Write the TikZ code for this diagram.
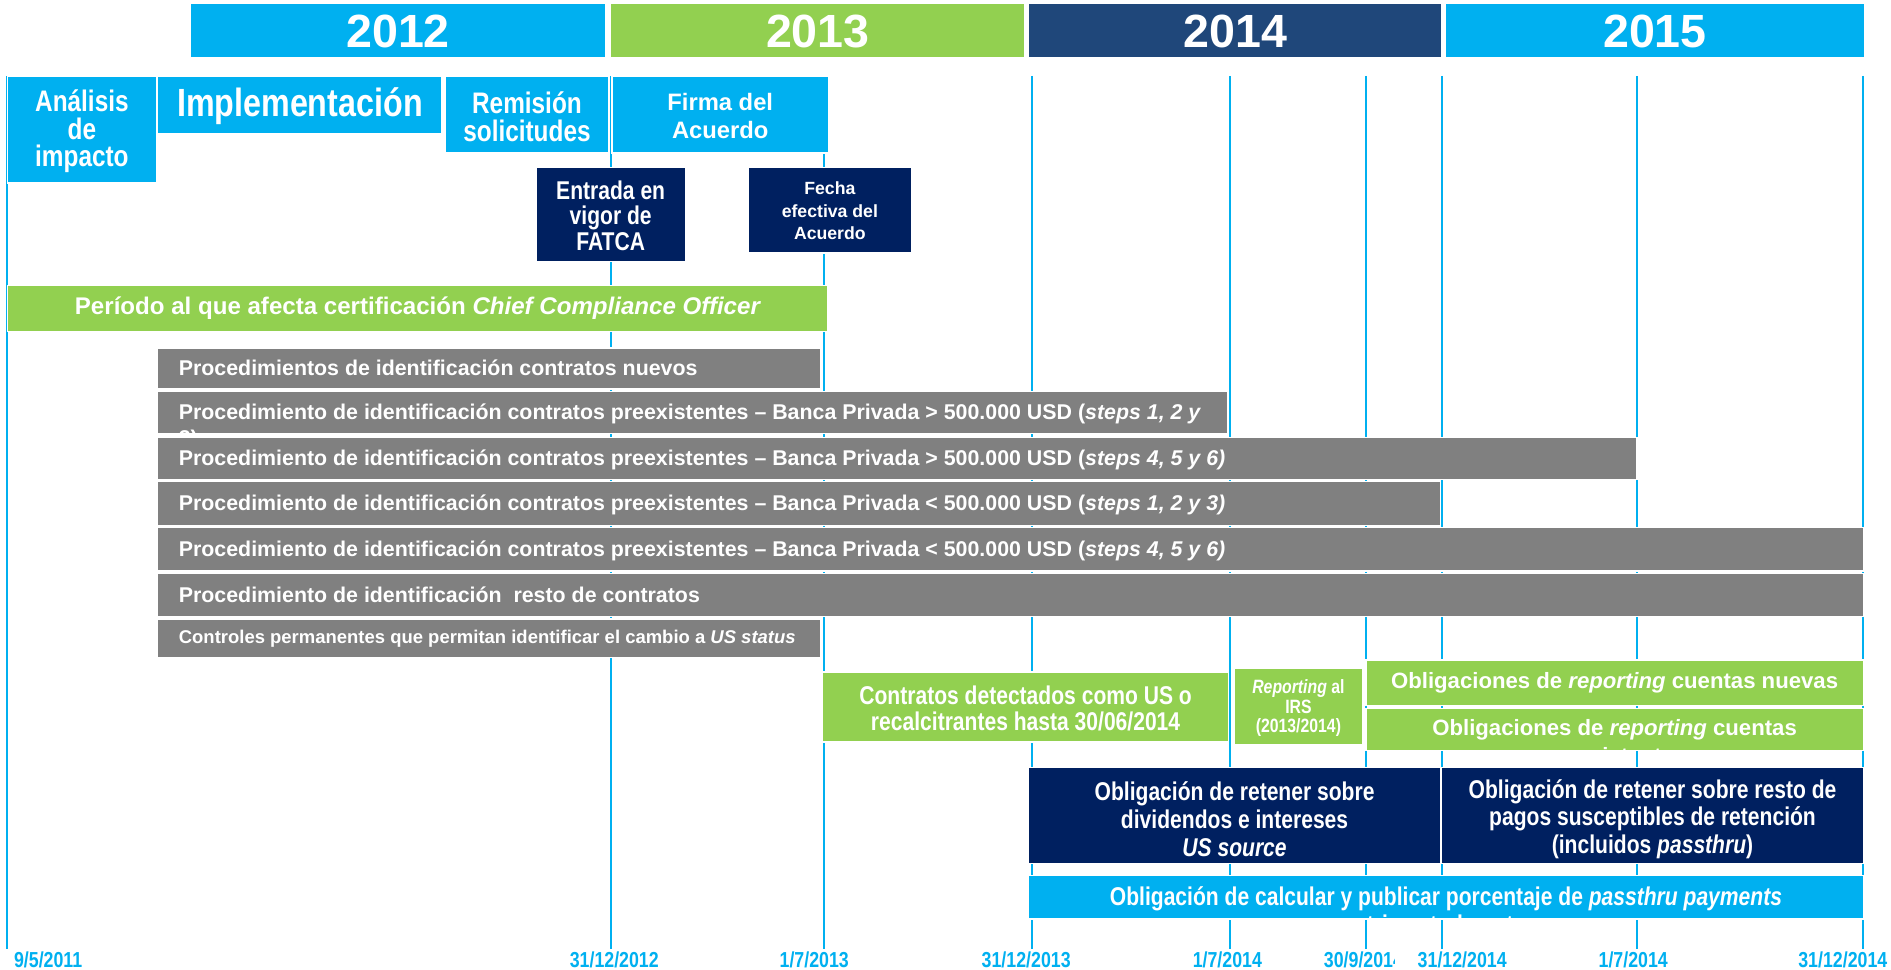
\documentclass[tikz,border=0pt]{standalone}
\usepackage{fontspec}
\setmainfont{Liberation Sans}
\newfontfamily\narrowfont[FakeStretch=0.82]{Liberation Sans}
\definecolor{fcyan}{RGB}{0,176,240}
\definecolor{fgreen}{RGB}{146,208,80}
\definecolor{fnavy}{RGB}{0,32,96}
\definecolor{fyear}{RGB}{31,71,122}
\definecolor{fgrey}{RGB}{128,128,128}
\tikzset{every picture/.style={line width=0.75pt},
  cyanbox/.style={fill=fcyan, draw=white, line width=0.8pt},
  greenbox/.style={fill=fgreen, draw=white, line width=0.8pt},
  navybox/.style={fill=fnavy, draw=white, line width=0.8pt},
  yearbox/.style={fill=fyear, draw=white, line width=0.8pt},
  greybar/.style={fill=fgrey, draw=white, line width=0.8pt},
  tline/.style={draw=fcyan, line width=1.1pt},
  boxtext/.style={text=white, align=center, inner sep=0pt},
  yeartext/.style={boxtext, font=\bfseries\fontsize{29}{30}\selectfont},
  bartext/.style={text=white, align=left, anchor=base west, inner sep=0pt, font=\bfseries\fontsize{13.3}{16}\selectfont},
  datetext/.style={text=fcyan, inner sep=1pt, font=\narrowfont\bfseries\fontsize{13.5}{16}\selectfont}
}

\begin{document}
\begin{tikzpicture}[x=0.75pt,y=0.75pt,yscale=-1,xscale=1]
\useasboundingbox (0,0) rectangle (1570,805);

%Straight Lines: timeline marks
\foreach \xm in {6,507,684,857,1021,1134,1197,1359,1547}
  \draw [tline] (\xm,63) -- (\xm,788);

%Shape: Rectangle: years
\draw [cyanbox] (158,3) rectangle (503,48);
\draw [greenbox] (507,3) rectangle (851,48);
\draw [yearbox] (854,3) rectangle (1197,48);
\draw [cyanbox] (1200,3) rectangle (1548,48);
% Text Node
\node [yeartext] (y2012) at (330.5,26) {2012};
\node [yeartext] (y2013) at (679,26) {2013};
\node [yeartext] (y2014) at (1025.5,26) {2014};
\node [yeartext] (y2015) at (1374,26) {2015};

%Shape: Rectangle: first phases
\draw [cyanbox] (6,63) rectangle (130,152);
\draw [cyanbox] (131,63) rectangle (367,111);
\draw [cyanbox] (370,63) rectangle (505,127);
\draw [cyanbox] (508,63) rectangle (688,127);
% Text Node
\node [boxtext, font=\narrowfont\bfseries\fontsize{18.5}{17.3}\selectfont] (analisis) at (68,109) {Análisis\\de\\impacto};
\node [boxtext, font=\narrowfont\bfseries\fontsize{24.5}{26}\selectfont] (implem) at (249,88) {Implementación};
\node [boxtext, font=\narrowfont\bfseries\fontsize{18.5}{17.3}\selectfont] (remision) at (437.5,97) {Remisión\\solicitudes};
\node [boxtext, font=\bfseries\fontsize{14.8}{17.3}\selectfont] (firma) at (598,96) {Firma del\\Acuerdo};

%Shape: Rectangle: milestones
\draw [navybox] (445,139) rectangle (569,217);
\draw [navybox] (621,139) rectangle (757,210);
% Text Node
\node [boxtext, font=\narrowfont\bfseries\fontsize{16}{16}\selectfont] (entrada) at (507,179) {Entrada en\\vigor de\\FATCA};
\node [boxtext, font=\bfseries\fontsize{11}{14}\selectfont] (fecha) at (689,175) {Fecha\\efectiva del\\Acuerdo};

%Shape: Rectangle: certification
\draw [greenbox] (6,237) rectangle (687,275);
\node [boxtext, font=\bfseries\fontsize{15}{17}\selectfont] (periodo) at (347,256) {Período al que afecta certificación \textit{Chief Compliance Officer}};

%Shape: Rectangle: procedures
\draw [greybar] (131,289) rectangle (681,323);
\node [bartext] (proc1) at (148,312) {Procedimientos de identificación contratos nuevos};
\draw [greybar] (131,325) rectangle (1019,360);
\node [bartext] (proc2) at (148,369.8) {Procedimiento de identificación contratos preexistentes – Banca Privada > 500.000 USD (\textit{steps 1, 2 y}\\3)};
\draw [greybar] (131,363) rectangle (1359,398);
\node [bartext] (proc3) at (148,386.5) {Procedimiento de identificación contratos preexistentes – Banca Privada > 500.000 USD (\textit{steps 4, 5 y 6)}};
\draw [greybar] (131,400) rectangle (1196,436);
\node [bartext] (proc4) at (148,424) {Procedimiento de identificación contratos preexistentes – Banca Privada < 500.000 USD (\textit{steps 1, 2 y 3)}};
\draw [greybar] (131,438) rectangle (1547,474);
\node [bartext] (proc5) at (148,462) {Procedimiento de identificación contratos preexistentes – Banca Privada < 500.000 USD (\textit{steps 4, 5 y 6)}};
\draw [greybar] (131,476) rectangle (1547,512);
\node [bartext] (proc6) at (148,500) {Procedimiento de identificación\ \ resto de contratos};
\draw [greybar] (131,514) rectangle (681,546);
\node [bartext, font=\bfseries\fontsize{11.5}{14}\selectfont] (controles) at (148,534) {Controles permanentes que permitan identificar el cambio a \textit{US status}};

%Shape: Rectangle: reporting
\draw [greenbox] (683,558) rectangle (1020,616);
\node [boxtext, font=\narrowfont\bfseries\fontsize{16}{16.5}\selectfont] (detectados) at (851.5,588) {Contratos detectados como US o\\recalcitrantes hasta 30/06/2014};
\draw [greenbox] (1025,555) rectangle (1131,618);
\node [boxtext, font=\narrowfont\bfseries\fontsize{12}{12}\selectfont] (irs) at (1078,588) {\textit{Reporting} al\\IRS\\(2013/2014)};
\draw [greenbox] (1134,548) rectangle (1547,586);
\node [boxtext, font=\bfseries\fontsize{13.8}{16}\selectfont] (nuevas) at (1340.5,567) {Obligaciones de \textit{reporting} cuentas nuevas};
\draw [greenbox] (1134,588) rectangle (1547,623);
\begin{scope}
  \clip (1134,588) rectangle (1547,623);
  \node [boxtext, anchor=base, font=\bfseries\fontsize{13.8}{17}\selectfont] (preex) at (1340.5,633.7) {Obligaciones de \textit{reporting} cuentas\\preexistentes};
\end{scope}

%Shape: Rectangle: withholding
\draw [navybox] (854,637) rectangle (1196,717);
\node [boxtext, font=\narrowfont\bfseries\fontsize{16}{17.3}\selectfont] (retener1) at (1025,680) {Obligación de retener sobre\\dividendos e intereses\\\textit{US source}};
\draw [navybox] (1197,637) rectangle (1547,717);
\node [boxtext, font=\narrowfont\bfseries\fontsize{16}{17.3}\selectfont] (retener2) at (1372,680) {Obligación de retener sobre resto de\\pagos susceptibles de retención\\(incluidos \textit{passthru})};
\draw [cyanbox] (854,727) rectangle (1547,763);
\begin{scope}
  \clip (854,727) rectangle (1547,763);
  \node [boxtext, anchor=base, font=\narrowfont\bfseries\fontsize{16}{17.3}\selectfont] (calcular) at (1200.5,775) {Obligación de calcular y publicar porcentaje de \textit{passthru payments}\\trimestralmente};
\end{scope}

% Text Node: dates
\node [datetext] (d1) at (40,797) {9/5/2011};
\node [datetext] (d2) at (510,797) {31/12/2012};
\node [datetext] (d3) at (676,797) {1/7/2013};
\node [datetext] (d4) at (852,797) {31/12/2013};
\node [datetext] (d5) at (1019,797) {1/7/2014};
\node [datetext] (d6) at (1132,797) {30/9/2014};
\node [datetext, fill=white, inner xsep=14pt] (d7) at (1214,797) {31/12/2014};
\node [datetext] (d8) at (1356,797) {1/7/2014};
\node [datetext] (d9) at (1530,797) {31/12/2014};

\end{tikzpicture}
\end{document}
